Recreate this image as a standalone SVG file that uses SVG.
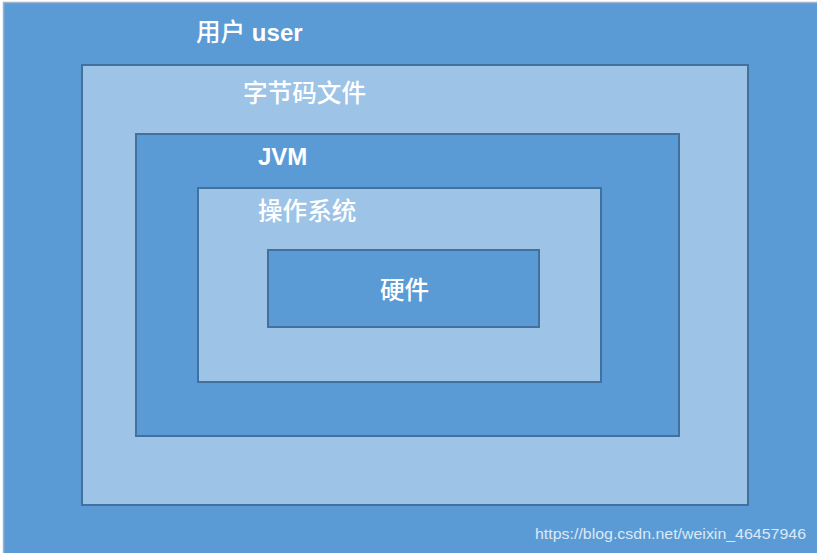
<svg xmlns="http://www.w3.org/2000/svg" width="817" height="553" viewBox="0 0 817 553">
<style>
.dark{fill:#5B9BD5;stroke:#41719C;stroke-width:2}
.light{fill:#9DC3E6;stroke:#41719C;stroke-width:2}
.lbl{fill:#FFFFFF;font-size:24px;font-family:"Liberation Sans","Noto Sans CJK SC",sans-serif}
.cjk{font-family:"Noto Sans CJK SC",sans-serif;font-weight:500;font-size:24.6px}
.lat{font-family:"Liberation Sans",Arial,sans-serif;font-weight:bold}
.wm{fill:#DCE8F5;font-size:15px;font-family:"Liberation Sans",Arial,sans-serif}
</style>
<rect width="817" height="553" fill="#FFFFFF"/>
<g id="user">
<rect x="3.5" y="2.5" width="830" height="570" fill="#5B9BD5" stroke="#9FB4CC" stroke-width="1.5"/>
<text class="lbl" x="196" y="41"><tspan class="cjk">用户</tspan><tspan class="lat"> user</tspan></text>
</g>
<g id="bytecode">
<rect class="light" x="82" y="65" width="666" height="440"/>
<text class="lbl cjk" x="243" y="102">字节码文件</text>
</g>
<g id="jvm">
<rect class="dark" x="136" y="134" width="543" height="302"/>
<text class="lbl lat" x="258" y="165">JVM</text>
</g>
<g id="os">
<rect class="light" x="198" y="188" width="403" height="194"/>
<text class="lbl cjk" x="258" y="220">操作系统</text>
</g>
<g id="hardware">
<rect class="dark" x="268" y="250" width="271" height="77"/>
<text class="lbl cjk" x="380" y="299">硬件</text>
</g>
<g id="connectors"/>
<text class="wm" x="535" y="539" textLength="271" lengthAdjust="spacingAndGlyphs">https://blog.csdn.net/weixin_46457946</text>
</svg>
